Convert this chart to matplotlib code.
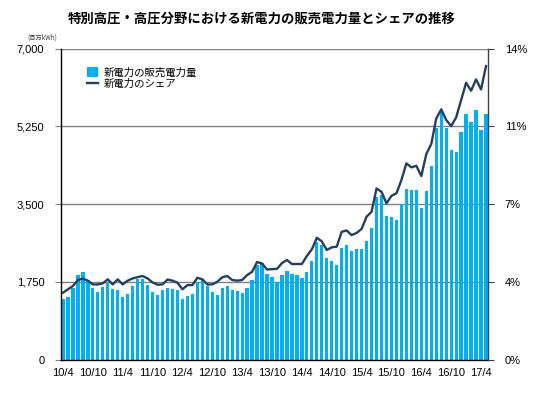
import matplotlib
matplotlib.use("Agg")
import matplotlib.pyplot as plt
import numpy as np
from matplotlib.patches import Patch
from matplotlib.lines import Line2D

plt.rcParams['font.family'] = ['Liberation Sans', 'Noto Sans CJK JP']

# 月次データ 2010/4 ～ 2017/5
sales = [1361, 1406, 1609, 1901, 1969, 1789, 1609, 1519, 1639, 1729, 1579, 1556,
         1406, 1482, 1654, 1811, 1811, 1684, 1519, 1459, 1564, 1609, 1586, 1564,
         1361, 1429, 1466, 1736, 1789, 1654, 1526, 1451, 1609, 1654, 1564, 1541,
         1496, 1609, 1789, 2126, 2164, 1924, 1856, 1744, 1901, 1999, 1924, 1901,
         1841, 1969, 2216, 2651, 2576, 2291, 2216, 2126, 2509, 2569, 2449, 2486,
         2486, 2666, 2959, 3656, 3701, 3229, 3206, 3139, 3499, 3836, 3814, 3814,
         3409, 3791, 4354, 5209, 5576, 5209, 4714, 4669, 5119, 5524, 5344, 5614,
         5164, 5524]
share = [3.01, 3.16, 3.31, 3.58, 3.64, 3.55, 3.38, 3.38, 3.43, 3.61, 3.38, 3.61,
         3.38, 3.55, 3.65, 3.71, 3.76, 3.65, 3.47, 3.37, 3.38, 3.60, 3.55, 3.46,
         3.16, 3.35, 3.35, 3.68, 3.61, 3.38, 3.38, 3.50, 3.70, 3.76, 3.58, 3.55,
         3.58, 3.80, 3.95, 4.39, 4.32, 4.05, 4.07, 4.08, 4.34, 4.48, 4.30, 4.30,
         4.30, 4.66, 4.96, 5.48, 5.32, 4.93, 5.05, 5.08, 5.75, 5.81, 5.60, 5.70,
         5.88, 6.43, 6.65, 7.70, 7.55, 7.03, 7.37, 7.48, 8.08, 8.83, 8.65, 8.72,
         8.26, 9.25, 9.70, 10.85, 11.26, 10.78, 10.51, 10.90, 11.68, 12.46, 12.10, 12.61,
         12.16, 13.21]
xlabels = ['10/4', '10/10', '11/4', '11/10', '12/4', '12/10', '13/4', '13/10',
           '14/4', '14/10', '15/4', '15/10', '16/4', '16/10', '17/4']
yticks = [0, 1750, 3500, 5250, 7000]
ylabels = ['0', '1,750', '3,500', '5,250', '7,000']
y2ticks = [0, 3.5, 7, 10.5, 14]
y2labels = ['0%', '4%', '7%', '11%', '14%']

bar_color = '#00B0F0'
line_color = '#243F60'

fig = plt.figure(figsize=(5.46, 4.04), dpi=100)
ax = fig.add_axes([0.1117, 0.1101, 0.7821, 0.7698])
x = np.arange(len(sales))

ax.bar(x, sales, width=0.66, color=bar_color, zorder=2)
ax.set_xlim(-0.4, 85.4)
ax.set_ylim(0, 7000)
ax.set_yticks(yticks)
ax.set_yticklabels(ylabels, fontsize=8)
ax.set_xticks(x[::6])
ax.set_xticklabels(xlabels, fontsize=8)
ax.tick_params(axis='x', length=0, pad=6)
ax.tick_params(axis='y', length=4, width=0.8, color='#808080', pad=8)
ax.grid(axis='y', color='#808080', linewidth=1.0, zorder=1)
ax.set_axisbelow(True)
for s in ['top', 'right']:
    ax.spines[s].set_visible(False)
ax.spines['left'].set_color('#000000')
ax.spines['left'].set_linewidth(1.0)
ax.spines['bottom'].set_color('#000000')
ax.spines['bottom'].set_linewidth(1.0)

ax2 = ax.twinx()
ax2.plot(x, share, color=line_color, linewidth=1.7, zorder=3)
ax2.set_ylim(0, 14)
ax2.set_yticks(y2ticks)
ax2.set_yticklabels(y2labels, fontsize=8)
ax2.tick_params(axis='y', length=4, width=0.8, color='#404040', pad=8)
for s in ['top', 'left', 'bottom']:
    ax2.spines[s].set_visible(False)
ax2.spines['right'].set_color('#404040')
ax2.spines['right'].set_linewidth(1.0)

fig.text(0.48, 0.953, '特別高圧・高圧分野における新電力の販売電力量とシェアの推移',
         ha='center', va='center', fontsize=9.6, fontweight='bold',
         family=['Noto Sans CJK JP'])
fig.text(0.05, 0.908, '(百万kWh)', ha='left', va='center', fontsize=4.5,
         color='#404040', family=['Noto Sans CJK JP'])

handles = [Patch(facecolor=bar_color, edgecolor='none'),
           Line2D([0], [0], color=line_color, linewidth=1.7)]
ax.legend(handles, ['新電力の販売電力量', '新電力のシェア'], loc='upper left',
          bbox_to_anchor=(0.04, 0.97), frameon=False,
          prop={'family': ['Noto Sans CJK JP'], 'size': 7.5},
          handlelength=1.0, handleheight=1.0, handletextpad=0.6, labelspacing=0.15)

fig.savefig('out.png', dpi=100)
